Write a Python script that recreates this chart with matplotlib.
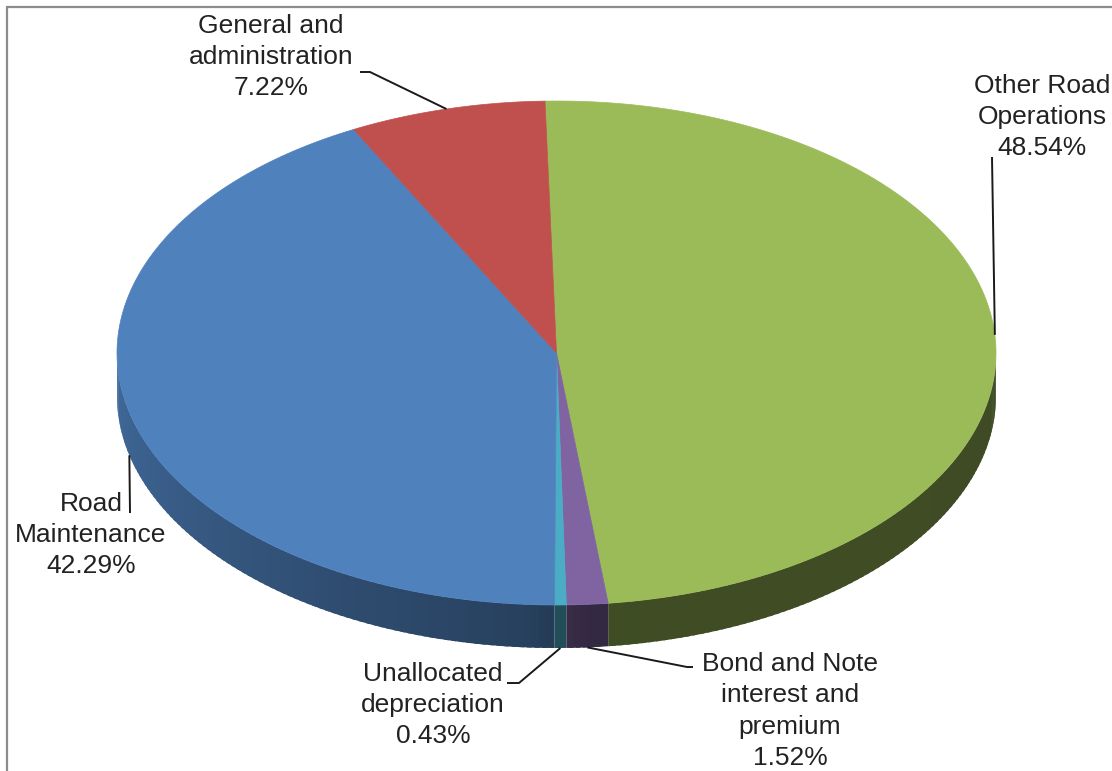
import matplotlib
matplotlib.use("Agg")
import matplotlib.pyplot as plt
from matplotlib.patches import Polygon
import numpy as np

# expense breakdown, clockwise from 12 o'clock
labels = ["Other Road\nOperations", "Bond and Note\ninterest and\npremium",
          "Unallocated\ndepreciation", "Road\nMaintenance",
          "General and\nadministration"]
shares = [48.54, 1.52, 0.43, 42.29, 7.22]
top_colors = [(155, 187, 89), (128, 100, 162), (75, 172, 198),
              (79, 129, 189), (192, 80, 77)]

# label block centres and leader elbows (pixels)
label_xy = [(1042, 117), (790, 711), (433, 705), (91, 535), (271, 57)]
elbows = [[(992, 157)],
          [(687, 667), (693, 667)],
          [(519, 683), (507, 683)],
          [(130, 513)],
          [(370, 72), (360, 72)]]

W, H = 1112, 771
cx, cy, rx, ry = 556.5, 353.0, 439.5, 252.0
depth = 43.0
start = -1.5

fig = plt.figure(figsize=(W / 100, H / 100), dpi=100)
ax = fig.add_axes([0, 0, 1, 1])
ax.set_xlim(0, W)
ax.set_ylim(H, 0)
ax.axis("off")


def rim(t, dy=0.0):
    t = np.radians(t)
    return cx + rx * np.sin(t), cy - ry * np.cos(t) + dy


def rgb(c, f=1.0):
    return tuple(min(1.0, v * f / 255.0) for v in c)


def side_factor(t):
    return np.interp(t, [90, 176, 184, 270], [0.40, 0.41, 0.50, 0.82])


bounds = start + np.concatenate([[0], np.cumsum(shares)]) * 3.6

# sides of the front half, drawn in thin overlapping strips for the shading
for i, col in enumerate(top_colors):
    t1, t2 = max(bounds[i], 90), min(bounds[i + 1], 270)
    if t2 <= t1:
        continue
    edges = np.linspace(t1, t2, max(2, int((t2 - t1) / 1.0) + 2))
    for a, b in zip(edges[:-1], edges[1:]):
        bb = min(b + 0.6, t2)
        ts = np.linspace(a, bb, 4)
        xs, ys = rim(ts)
        xb, yb = rim(ts[::-1], depth)
        pts = np.column_stack([np.r_[xs, xb], np.r_[ys, yb]])
        c = rgb(col, side_factor((a + b) / 2))
        ax.add_patch(Polygon(pts, closed=True, fc=c, lw=0))

# top faces
for i, col in enumerate(top_colors):
    ts = np.linspace(bounds[i], bounds[i + 1], max(3, int(shares[i] * 3.6)))
    xs, ys = rim(ts)
    pts = np.column_stack([np.r_[cx, xs], np.r_[cy, ys]])
    c = rgb(col)
    ax.add_patch(Polygon(pts, closed=True, fc=c, ec=c, lw=0.5))

# labels with leader lines
for i, lab in enumerate(labels):
    mid = (bounds[i] + bounds[i + 1]) / 2
    ax0, ay0 = rim(mid, depth if 90 < mid < 270 else 0.0)
    path = [(ax0, ay0)] + elbows[i]
    ax.plot([p[0] for p in path], [p[1] for p in path], color="#1a1a1a",
            lw=1.4, solid_capstyle="butt")
    ax.text(label_xy[i][0], label_xy[i][1], f"{lab}\n{shares[i]:.2f}%",
            ha="center", va="center", ma="center", fontsize=19,
            family="Liberation Sans", color="#222222", linespacing=1.38)

# outer frame
ax.plot([7, 7, W + 5], [H + 5, 7, 7], color="#8c8c8c", lw=1.6,
        solid_joinstyle="miter")

fig.savefig("out.png", dpi=100, facecolor="white")
